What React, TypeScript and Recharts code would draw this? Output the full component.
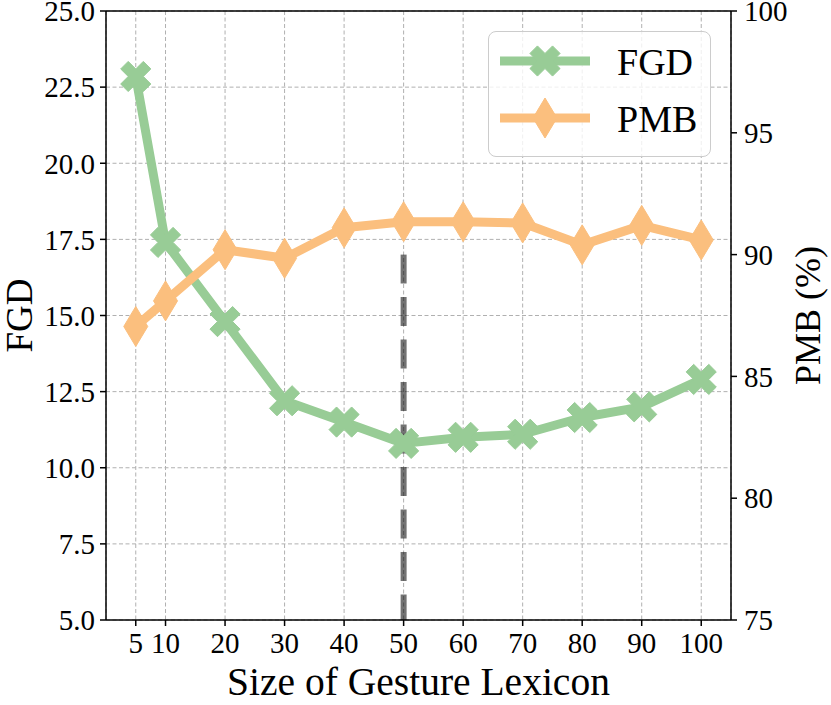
import React from "react";
import { LineChart, Line, XAxis, YAxis, CartesianGrid, ReferenceLine, Legend } from "recharts";

const lexiconSizes = [5, 10, 20, 30, 40, 50, 60, 70, 80, 90, 100];
const fgdValues = [22.85, 17.4, 14.8, 12.2, 11.5, 10.8, 11.0, 11.1, 11.65, 12.0, 12.9];
const pmbValues = [87.05, 88.1, 90.2, 89.85, 91.1, 91.35, 91.35, 91.3, 90.4, 91.2, 90.6];
const fgdTicks = [5, 7.5, 10, 12.5, 15, 17.5, 20, 22.5, 25];
const pmbTicks = [75, 80, 85, 90, 95, 100];
const chosenSize = 50;
const chosenLineTop = 17;

const data = lexiconSizes.map((size, i) => ({ size, fgd: fgdValues[i], pmb: pmbValues[i] }));

const GREEN = "#98cc96";
const ORANGE = "#fbbf7e";
const FONT = "Liberation Serif";

// filled "X": a plus shape turned 45 degrees
const plusUnits = [
  [-1, -3], [1, -3], [1, -1], [3, -1], [3, 1], [1, 1],
  [1, 3], [-1, 3], [-1, 1], [-3, 1], [-3, -1], [-1, -1],
];

function XMarker({ cx, cy, color, size = 32 }: { cx: number; cy: number; color: string; size?: number }) {
  const u = size / 6;
  const pts = plusUnits
    .map(([x, y]) => `${cx + ((x - y) * u) / Math.SQRT2},${cy + ((x + y) * u) / Math.SQRT2}`)
    .join(" ");
  return <polygon points={pts} fill={color} stroke={color} strokeWidth={1} />;
}

function DiamondMarker({ cx, cy, color, w = 24, h = 40 }: { cx: number; cy: number; color: string; w?: number; h?: number }) {
  const pts = `${cx},${cy - h / 2} ${cx + w / 2},${cy} ${cx},${cy + h / 2} ${cx - w / 2},${cy}`;
  return <polygon points={pts} fill={color} stroke={color} strokeWidth={1} />;
}

const fgdDot = (props: any) => <XMarker key={`fgd-${props.index}`} cx={props.cx} cy={props.cy} color={GREEN} />;
const pmbDot = (props: any) => <DiamondMarker key={`pmb-${props.index}`} cx={props.cx} cy={props.cy} color={ORANGE} />;

const legendItems = [
  { name: "FGD", color: GREEN, marker: "x" },
  { name: "PMB", color: ORANGE, marker: "d" },
];

function LegendBox() {
  return (
    <div
      style={{
        width: 223,
        height: 126,
        boxSizing: "border-box",
        border: "1.5px solid #cccccc",
        borderRadius: 8,
        background: "rgba(255,255,255,0.8)",
        position: "relative",
      }}
    >
      <svg width={223} height={126} style={{ position: "absolute", left: -1.5, top: -1.5 }}>
        {legendItems.map((item, i) => {
          const y = 30 + i * 57;
          return (
            <g key={item.name}>
              <line x1={12} x2={102} y1={y} y2={y} stroke={item.color} strokeWidth={9} />
              {item.marker === "x" ? (
                <XMarker cx={57} cy={y} color={item.color} />
              ) : (
                <DiamondMarker cx={57} cy={y} color={item.color} />
              )}
              <text x={129} y={y + 14} fontSize={38} fontFamily={FONT} fill="#000">
                {item.name}
              </text>
            </g>
          );
        })}
      </svg>
    </div>
  );
}

const fgdLabel = ({ viewBox }: any) => {
  const cx = viewBox.x + 32;
  const cy = viewBox.y + viewBox.height / 2;
  return (
    <text x={cx} y={cy} transform={`rotate(-90 ${cx} ${cy})`} textAnchor="middle" fontSize={37} fontFamily={FONT} fill="#000">
      FGD
    </text>
  );
};

const pmbLabel = ({ viewBox }: any) => {
  const cx = viewBox.x + 89;
  const cy = viewBox.y + viewBox.height / 2;
  return (
    <text x={cx} y={cy} transform={`rotate(-90 ${cx} ${cy})`} textAnchor="middle" fontSize={36} fontFamily={FONT} fill="#000">
      PMB (%)
    </text>
  );
};

const sizeLabel = ({ viewBox }: any) => {
  const cx = viewBox.x + viewBox.width / 2;
  const cy = viewBox.y + 75;
  return (
    <text x={cx} y={cy} textAnchor="middle" fontSize={39.5} fontFamily={FONT} fill="#000">
      Size of Gesture Lexicon
    </text>
  );
};

const tickStyle = { fontSize: 29, fill: "#000", fontFamily: FONT };

export default function App() {
  return (
    <div style={{ position: "absolute", left: 0, top: 0, width: 831, height: 705, background: "#fff" }}>
      <LineChart width={831} height={705} data={data} margin={{ top: 11, right: 0, bottom: 0, left: 0 }}>
        <CartesianGrid yAxisId="left" stroke="#b0b0b0" strokeDasharray="4 2.5" strokeWidth={1} />
        <XAxis
          dataKey="size"
          type="number"
          domain={[0, 105]}
          ticks={lexiconSizes}
          interval={0}
          height={85}
          stroke="#000"
          axisLine={{ strokeWidth: 1.5 }}
          tickLine={{ strokeWidth: 1.5 }}
          tickSize={6}
          tickMargin={6}
          tick={tickStyle}
          label={sizeLabel}
        />
        <YAxis
          yAxisId="left"
          domain={[5, 25]}
          ticks={fgdTicks}
          interval={0}
          width={106}
          stroke="#000"
          axisLine={{ strokeWidth: 1.5 }}
          tickLine={{ strokeWidth: 1.5 }}
          tickSize={6}
          tickMargin={5}
          tick={tickStyle}
          tickFormatter={(v: number) => v.toFixed(1)}
          label={fgdLabel}
        />
        <YAxis
          yAxisId="right"
          orientation="right"
          domain={[75, 100]}
          ticks={pmbTicks}
          interval={0}
          width={100}
          stroke="#000"
          axisLine={{ strokeWidth: 1.5 }}
          tickLine={{ strokeWidth: 1.5 }}
          tickSize={6}
          tickMargin={7}
          tick={tickStyle}
          label={pmbLabel}
        />
        <ReferenceLine yAxisId="left" y={25} stroke="#000" strokeWidth={1.5} />
        <Line
          yAxisId="left"
          dataKey="fgd"
          type="linear"
          stroke={GREEN}
          strokeWidth={9}
          strokeLinejoin="round"
          dot={fgdDot}
          activeDot={false}
          isAnimationActive={false}
        />
        <ReferenceLine
          yAxisId="left"
          segment={[
            { x: chosenSize, y: chosenLineTop },
            { x: chosenSize, y: 5 },
          ]}
          stroke="#000"
          strokeOpacity={0.55}
          strokeWidth={6}
          strokeDasharray="29 13.5"
        />
        <Line
          yAxisId="right"
          dataKey="pmb"
          type="linear"
          stroke={ORANGE}
          strokeWidth={9}
          strokeLinejoin="round"
          dot={pmbDot}
          activeDot={false}
          isAnimationActive={false}
        />
        <Legend
          layout="vertical"
          align="center"
          verticalAlign="middle"
          content={() => <LegendBox />}
          wrapperStyle={{ left: 488, top: 31, width: 223, height: 126 }}
        />
      </LineChart>
    </div>
  );
}
